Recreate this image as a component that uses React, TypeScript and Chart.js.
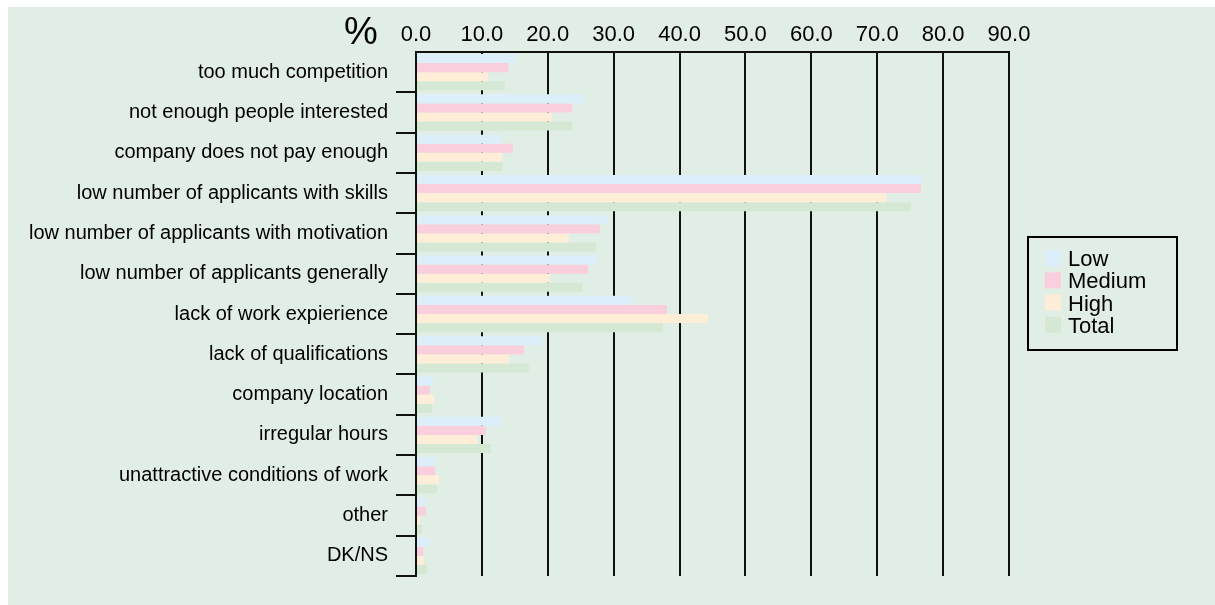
import React, { useEffect, useRef } from 'react';
import { Chart, registerables } from 'chart.js';

Chart.register(...registerables);

const categories = [
  'too much competition',
  'not enough people interested',
  'company does not pay enough',
  'low number of applicants with skills',
  'low number of applicants with motivation',
  'low number of applicants generally',
  'lack of work expierience',
  'lack of qualifications',
  'company location',
  'irregular hours',
  'unattractive conditions of work',
  'other',
  'DK/NS',
];

const lowValues = [15.1, 25.5, 12.9, 76.8, 29.1, 27.4, 32.8, 19.1, 2.6, 13.0, 2.9, 1.4, 2.1];
const mediumValues = [14.0, 23.7, 14.7, 76.6, 27.9, 26.1, 38.1, 16.4, 2.1, 10.6, 2.9, 1.5, 1.1];
const highValues = [10.9, 20.6, 13.0, 71.4, 23.2, 20.3, 44.3, 14.1, 2.7, 9.3, 3.5, 0.6, 1.2];
const totalValues = [13.5, 23.7, 13.2, 75.1, 27.3, 25.3, 37.5, 17.1, 2.4, 11.4, 3.2, 0.9, 1.7];

const seriesLabels = ['Low', 'Medium', 'High', 'Total'];
const seriesColors = ['#dbeefa', '#f9cfdd', '#feeed7', '#d4e8d4'];

const xMin = 0;
const xMax = 90;
const xStep = 10;
const unitLabel = '%';

const FONT = '"Liberation Sans", Arial, Helvetica, sans-serif';

const boxLegend = {
  id: 'boxLegend',
  afterDraw(chart: any) {
    const { ctx, chartArea } = chart;
    const left = chartArea.right + 19;
    const top = chartArea.top + 185;
    const w = 149;
    const h = 113;
    ctx.save();
    ctx.lineWidth = 2;
    ctx.strokeStyle = '#000';
    ctx.strokeRect(left, top, w, h);
    ctx.font = `22px ${FONT}`;
    ctx.textBaseline = 'alphabetic';
    ctx.textAlign = 'left';
    chart.data.datasets.forEach((ds: any, i: number) => {
      const y = top + 13 + i * 22.3;
      ctx.fillStyle = ds.backgroundColor;
      ctx.fillRect(left + 17, y, 16, 16);
      ctx.fillStyle = '#000';
      ctx.fillText(ds.label, left + 40, y + 16);
    });
    ctx.restore();
  },
};

const unitMark = {
  id: 'unitMark',
  afterDraw(chart: any) {
    const { ctx, chartArea } = chart;
    ctx.save();
    ctx.font = `38px ${FONT}`;
    ctx.fillStyle = '#000';
    ctx.textAlign = 'center';
    ctx.textBaseline = 'alphabetic';
    ctx.fillText(unitLabel, chartArea.left - 55, chartArea.top - 8);
    ctx.restore();
  },
};

export default function App() {
  const ref = useRef<HTMLCanvasElement | null>(null);

  useEffect(() => {
    if (!ref.current) return;
    const seriesValues = [lowValues, mediumValues, highValues, totalValues];
    const chart = new Chart(ref.current, {
      type: 'bar',
      data: {
        labels: categories,
        datasets: seriesLabels.map((label, i) => ({
          label,
          data: seriesValues[i],
          backgroundColor: seriesColors[i],
          borderWidth: 0,
          categoryPercentage: 0.9,
          barPercentage: 1.0,
        })),
      },
      options: {
        indexAxis: 'y',
        responsive: false,
        animation: false,
        devicePixelRatio: 1,
        layout: { padding: { left: 8, right: 206, top: 0, bottom: 29 } },
        plugins: {
          legend: { display: false },
          tooltip: { enabled: false },
        },
        scales: {
          x: {
            type: 'linear',
            position: 'top',
            min: xMin,
            max: xMax,
            afterFit: (scale: any) => {
              scale.height = 45;
            },
            ticks: {
              stepSize: xStep,
              autoSkip: false,
              maxRotation: 0,
              padding: 4,
              color: '#000',
              font: { family: FONT, size: 22 },
              callback: (v: any) => Number(v).toFixed(1),
            },
            grid: {
              drawTicks: false,
              color: '#111',
              lineWidth: 2,
            },
            border: { display: true, color: '#111', width: 2 },
          },
          y: {
            type: 'category',
            position: 'left',
            z: 1,
            afterFit: (scale: any) => {
              scale.width = 400;
            },
            ticks: {
              padding: 8,
              color: '#000',
              autoSkip: false,
              font: { family: FONT, size: 20 },
            },
            grid: {
              offset: true,
              drawOnChartArea: false,
              drawTicks: true,
              tickLength: 20,
              lineWidth: 2,
              color: (ctx: any) => (ctx.index === 0 ? 'rgba(0,0,0,0)' : '#111'),
            },
            border: { display: true, color: '#111', width: 2 },
          },
        },
      },
      plugins: [boxLegend, unitMark],
    });
    return () => chart.destroy();
  }, []);

  return (
    <div
      style={{
        position: 'fixed',
        left: 8,
        top: 7,
        right: 0,
        bottom: 0,
        background: '#e1eee6',
        overflow: 'hidden',
      }}
    >
      <canvas ref={ref} width={1207} height={598} style={{ display: 'block' }} />
    </div>
  );
}
